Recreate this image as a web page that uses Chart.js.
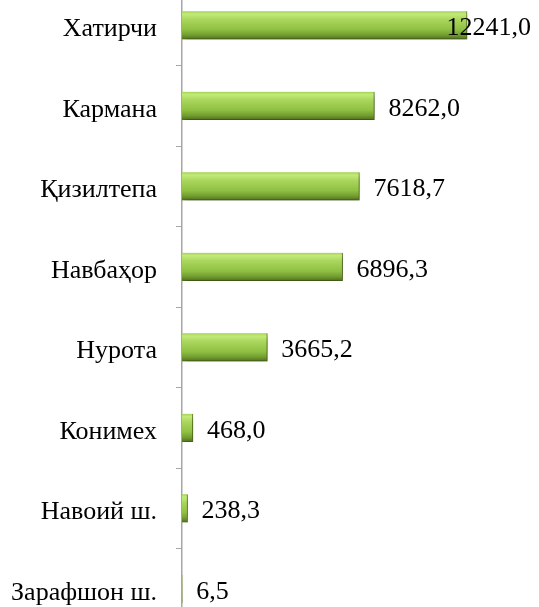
<!DOCTYPE html>
<html>
<head>
<meta charset="utf-8">
<script src="https://cdn.jsdelivr.net/npm/chart.js@4"></script>
<style>
html,body{margin:0;padding:0;background:#fff;overflow:hidden;width:539px;height:607px;}
#wrap{position:absolute;left:0;top:-15px;width:539px;height:644px;}
</style>
</head>
<body>
<div id="wrap"><canvas id="c" width="539" height="644"></canvas></div>
<script>
const categories = ["Хатирчи","Кармана","Қизилтепа","Навбаҳор","Нурота","Конимех","Навоий ш.","Зарафшон ш."];
const values = [12241.0, 8262.0, 7618.7, 6896.3, 3665.2, 468.0, 238.3, 6.5];
const valueLabels = ["12241,0","8262,0","7618,7","6896,3","3665,2","468,0","238,3","6,5"];

const BAR_T = 28;
const FONT = '"Liberation Serif", "Times New Roman", serif';

function barFill(ctx){
  const chart = ctx.chart;
  const ys = chart.scales && chart.scales.y;
  if (!ys || ctx.dataIndex === undefined) return '#8dbb3c';
  const yc = ys.getPixelForValue(ctx.dataIndex);
  if (!isFinite(yc)) return '#8dbb3c';
  const g = chart.ctx.createLinearGradient(0, yc - BAR_T/2, 0, yc + BAR_T/2);
  g.addColorStop(0, '#a4d255');
  g.addColorStop(0.1, '#c2ea78');
  g.addColorStop(0.3, '#a9d65c');
  g.addColorStop(0.65, '#90c043');
  g.addColorStop(0.85, '#729d30');
  g.addColorStop(1, '#506f1c');
  return g;
}

const shadowPlugin = {
  id: 'shadow',
  beforeDatasetDraw(chart){
    const c = chart.ctx;
    c.save();
    c.shadowColor = 'rgba(0,0,0,0.35)';
    c.shadowBlur = 6;
    c.shadowOffsetX = 2;
    c.shadowOffsetY = 4;
  },
  afterDatasetDraw(chart){
    chart.ctx.restore();
  }
};

const labelPlugin = {
  id: 'vlabels',
  afterDatasetsDraw(chart){
    const c = chart.ctx;
    const meta = chart.getDatasetMeta(0);
    c.save();
    c.font = '26px ' + FONT;
    c.fillStyle = '#000';
    c.textBaseline = 'middle';
    c.textAlign = 'left';
    meta.data.forEach((bar, i) => {
      const txt = valueLabels[i];
      const w = c.measureText(txt).width;
      let x = bar.x + 14;
      const maxX = chart.width - 8 - w;
      if (x > maxX) x = maxX;
      c.fillText(txt, x, bar.y + 3);
    });
    c.restore();
  }
};

new Chart(document.getElementById('c'), {
  type: 'bar',
  data: {
    labels: categories,
    datasets: [{
      data: values,
      backgroundColor: barFill,
      borderColor: '#5d7f1f',
      borderWidth: {top:0, right:1, bottom:1, left:0},
      borderSkipped: 'left',
      barThickness: BAR_T
    }]
  },
  options: {
    indexAxis: 'y',
    responsive: false,
    animation: false,
    layout: {padding: {left: 0, right: 31, top: 0, bottom: 0}},
    plugins: {legend: {display: false}, tooltip: {enabled: false}},
    scales: {
      x: {
        display: false,
        min: 0,
        max: 14000
      },
      y: {
        offset: true,
        grid: {
          offset: true,
          drawOnChartArea: false,
          drawTicks: true,
          tickLength: 6,
          color: '#a6a6a6',
          lineWidth: 1
        },
        border: {display: true, color: '#a6a6a6', width: 1.5},
        ticks: {
          color: '#000',
          padding: 19,
          labelOffset: 4,
          font: {family: FONT, size: 26}
        },
        afterFit(scale){ scale.width = 182; scale.paddingTop = 0; scale.paddingBottom = 0; }
      }
    }
  },
  plugins: [shadowPlugin, labelPlugin]
});
</script>
</body>
</html>
